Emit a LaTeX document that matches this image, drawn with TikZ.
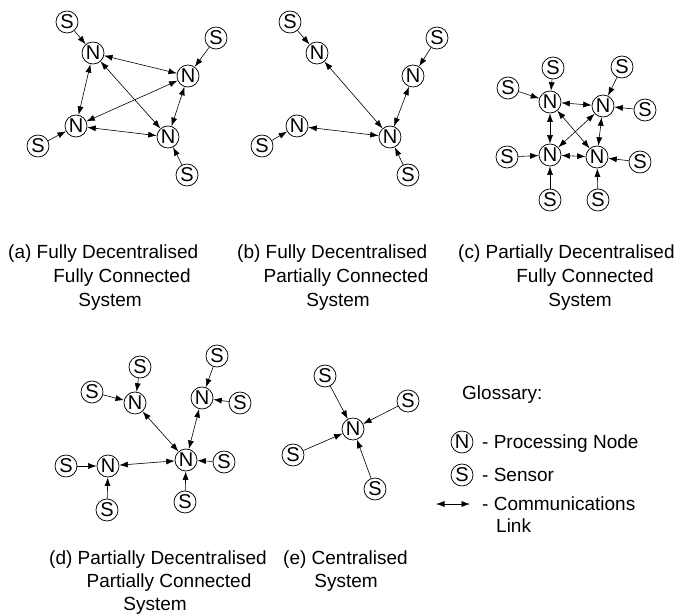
\documentclass[tikz,border=0pt]{standalone}
\usepackage{fontspec}
\setmainfont{Liberation Sans}
\usetikzlibrary{arrows.meta}

\tikzset{
  nd/.style={circle, draw, line width=0.75pt, minimum size=22pt, inner sep=0pt,
             font=\fontsize{20}{20}\selectfont},
  link/.style={line width=0.6pt, {Latex[length=8.5pt,width=6pt]}-{Latex[length=8.5pt,width=6pt]}},
  feed/.style={line width=0.6pt, -{Latex[length=8.5pt,width=6pt]}},
  lbl/.style={font=\fontsize{19}{23}\selectfont, inner sep=0pt},
}

\begin{document}
\begin{tikzpicture}[x=1pt, y=-1pt]
\useasboundingbox (0,0) rectangle (681,614);

% ---------- (a) fully decentralised, fully connected ----------
\node[nd] (a1) at (93,53) {N};
\node[nd] (a2) at (188,76) {N};
\node[nd] (a3) at (76,126) {N};
\node[nd] (a4) at (168,137) {N};
\node[nd] (as1) at (67,22) {S};
\node[nd] (as2) at (216,38) {S};
\node[nd] (as3) at (38,146) {S};
\node[nd] (as4) at (187,175) {S};
\draw[feed] (as1) -- (a1);
\draw[feed] (as2) -- (a2);
\draw[feed] (as3) -- (a3);
\draw[feed] (as4) -- (a4);
\draw[link] (a1) -- (a2);
\draw[link] (a1) -- (a3);
\draw[link] (a1) -- (a4);
\draw[link] (a2) -- (a3);
\draw[link] (a2) -- (a4);
\draw[link] (a3) -- (a4);

% ---------- (b) fully decentralised, partially connected ----------
\node[nd] (b1) at (317,53) {N};
\node[nd] (b2) at (413,76) {N};
\node[nd] (b3) at (297,126) {N};
\node[nd] (b4) at (390,137) {N};
\node[nd] (bs1) at (290,22) {S};
\node[nd] (bs2) at (437,38) {S};
\node[nd] (bs3) at (262,146) {S};
\node[nd] (bs4) at (408,175) {S};
\draw[feed] (bs1) -- (b1);
\draw[feed] (bs2) -- (b2);
\draw[feed] (bs3) -- (b3);
\draw[feed] (bs4) -- (b4);
\draw[link] (b1) -- (b4);
\draw[link] (b2) -- (b4);
\draw[link] (b3) -- (b4);

% ---------- (c) partially decentralised, fully connected ----------
\node[nd] (c1) at (550,102) {N};
\node[nd] (c2) at (603,106) {N};
\node[nd] (c3) at (550,155) {N};
\node[nd] (c4) at (597,157) {N};
\node[nd] (cs1) at (553,68) {S};
\node[nd] (cs2) at (508,88) {S};
\node[nd] (cs3) at (622,67) {S};
\node[nd] (cs4) at (645,110) {S};
\node[nd] (cs5) at (507,157) {S};
\node[nd] (cs6) at (550,200) {S};
\node[nd] (cs7) at (640,162) {S};
\node[nd] (cs8) at (598,200) {S};
\draw[feed] (cs1) -- (c1);
\draw[feed] (cs2) -- (c1);
\draw[feed] (cs3) -- (c2);
\draw[feed] (cs4) -- (c2);
\draw[feed] (cs5) -- (c3);
\draw[feed] (cs6) -- (c3);
\draw[feed] (cs7) -- (c4);
\draw[feed] (cs8) -- (c4);
\draw[link] (c1) -- (c2);
\draw[link] (c1) -- (c3);
\draw[link] (c1) -- (c4);
\draw[link] (c2) -- (c3);
\draw[link] (c2) -- (c4);
\draw[link] (c3) -- (c4);

% ---------- (d) partially decentralised, partially connected ----------
\node[nd] (d1) at (135,403) {N};
\node[nd] (d2) at (202,398) {N};
\node[nd] (d3) at (186,460) {N};
\node[nd] (d4) at (108,466) {N};
\node[nd] (ds1) at (140,367) {S};
\node[nd] (ds2) at (92,392) {S};
\node[nd] (ds3) at (217,356) {S};
\node[nd] (ds4) at (240,403) {S};
\node[nd] (ds5) at (224,462) {S};
\node[nd] (ds6) at (185,502) {S};
\node[nd] (ds7) at (66,466) {S};
\node[nd] (ds8) at (107,510) {S};
\draw[feed] (ds1) -- (d1);
\draw[feed] (ds2) -- (d1);
\draw[feed] (ds3) -- (d2);
\draw[feed] (ds4) -- (d2);
\draw[feed] (ds5) -- (d3);
\draw[feed] (ds6) -- (d3);
\draw[feed] (ds7) -- (d4);
\draw[feed] (ds8) -- (d4);
\draw[link] (d1) -- (d3);
\draw[link] (d2) -- (d3);
\draw[link] (d4) -- (d3);

% ---------- (e) centralised ----------
\node[nd] (e0) at (353,429) {N};
\node[nd] (es1) at (325,376) {S};
\node[nd] (es2) at (408,401) {S};
\node[nd] (es3) at (293,455) {S};
\node[nd] (es4) at (375,489) {S};
\draw[feed] (es1) -- (e0);
\draw[feed] (es2) -- (e0);
\draw[feed] (es3) -- (e0);
\draw[feed] (es4) -- (e0);

% ---------- captions ----------
\node[lbl, anchor=base west] (ta1) at (8,258) {(a) Fully Decentralised};
\node[lbl, anchor=base] (ta2) at (122,282) {Fully Connected};
\node[lbl, anchor=base] (ta3) at (110,306) {System};
\node[lbl, anchor=base west] (tb1) at (237,258) {(b) Fully Decentralised};
\node[lbl, anchor=base] (tb2) at (346,282) {Partially Connected};
\node[lbl, anchor=base] (tb3) at (338,306) {System};
\node[lbl, anchor=base west] (tc1) at (458,258) {(c) Partially Decentralised};
\node[lbl, anchor=base] (tc2) at (585,282) {Fully Connected};
\node[lbl, anchor=base] (tc3) at (580,306) {System};
\node[lbl, anchor=base west] (td1) at (49,564) {(d) Partially Decentralised};
\node[lbl, anchor=base] (td2) at (169,587) {Partially Connected};
\node[lbl, anchor=base] (td3) at (155,610) {System};
\node[lbl, anchor=base west] (te1) at (283,564) {(e) Centralised};
\node[lbl, anchor=base] (te2) at (346,587) {System};

% ---------- glossary ----------
\node[lbl, anchor=base west] (gt) at (462,399) {Glossary:};
\node[nd] (gn) at (462,442) {N};
\node[lbl, anchor=base west] (gnt) at (482,448) {- Processing Node};
\node[nd] (gs) at (462,475) {S};
\node[lbl, anchor=base west] (gst) at (482,481) {- Sensor};
\coordinate (gl1) at (436,504);
\coordinate (gl2) at (470,504);
\draw[link] (gl1) -- (gl2);
\node[lbl, anchor=base west] (glt) at (482,510) {- Communications};
\node[lbl, anchor=base west] (glt2) at (496,532) {Link};
\end{tikzpicture}
\end{document}
